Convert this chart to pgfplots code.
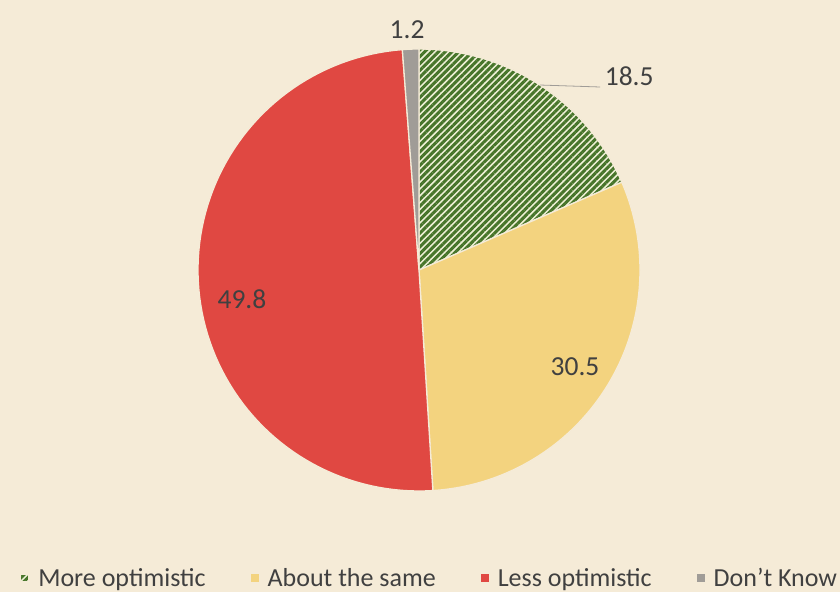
\documentclass[border=0pt]{standalone}
\usepackage{pgfplots}
\pgfplotsset{compat=1.18}
\usepackage{fontspec}
\setmainfont{Carlito}
\usetikzlibrary{patterns.meta}
\definecolor{bg}{HTML}{F5EBD7}
\definecolor{cgreen}{HTML}{47752A}
\definecolor{clgreen}{HTML}{EEF0D6}
\definecolor{cyellow}{HTML}{F3D37F}
\definecolor{cred}{HTML}{E04842}
\definecolor{cgray}{HTML}{A09C97}
\definecolor{ctext}{HTML}{404040}
% data (percent)
\def\vA{18.5}\def\vB{30.5}\def\vC{49.8}\def\vD{1.2}
\pgfmathsetmacro{\tot}{\vA+\vB+\vC+\vD}
\pgfmathsetmacro{\aA}{90}
\pgfmathsetmacro{\aB}{\aA-\vA/\tot*360}
\pgfmathsetmacro{\aC}{\aB-\vB/\tot*360}
\pgfmathsetmacro{\aD}{\aC-\vC/\tot*360}
\pgfmathsetmacro{\aE}{\aD-\vD/\tot*360}
\begin{document}
\begin{tikzpicture}
\fill[bg] (0,0) rectangle (840bp,592bp);
\begin{axis}[
  anchor=origin, at={(419bp,322bp)},
  x=221bp, y=221bp,
  xmin=-1.1, xmax=1.1, ymin=-1.1, ymax=1.1,
  hide axis, clip=false,
  samples=90,
  font=\fontsize{27.5bp}{30bp}\selectfont\color{ctext},
  legend columns=4,
  legend style={draw=none, fill=none, inner sep=0pt,
    at={(-0.321,-0.1335)}, anchor=west,
    font=\fontsize{26bp}{28bp}\selectfont\color{ctext},
    /tikz/every odd column/.append style={column sep=7bp},
    /tikz/every even column/.append style={column sep=43bp}},
  legend cell align=left,
  legend image code/.code={\path[#1, draw=none] (0bp,-4bp) rectangle (8bp,4bp);},
]
\addplot[fill=clgreen, postaction={pattern={Lines[angle=45,distance=4.8bp,line width=3bp]}, pattern color=cgreen}, draw=bg, line width=1.3pt, domain=\aB:\aA, variable=\t]
  ({cos(t)},{sin(t)}) -- (axis cs:0,0) -- cycle;
\addlegendentry{More optimistic}
\addplot[fill=cyellow, draw=bg, line width=1.3pt, domain=\aC:\aB, variable=\t]
  ({cos(t)},{sin(t)}) -- (axis cs:0,0) -- cycle;
\addlegendentry{About the same}
\addplot[fill=cred, draw=bg, line width=1.3pt, domain=\aD:\aC, variable=\t]
  ({cos(t)},{sin(t)}) -- (axis cs:0,0) -- cycle;
\addlegendentry{Less optimistic}
\addplot[fill=cgray, draw=bg, line width=1.3pt, domain=\aE:\aD, variable=\t]
  ({cos(t)},{sin(t)}) -- (axis cs:0,0) -- cycle;
\addlegendentry{Don’t Know}
\draw[cgray, line width=0.8pt] (axis cs:0.548,0.837) -- (axis cs:0.82,0.828);
\node[anchor=base west, inner sep=0pt] at (axis cs:0.84,0.835) {18.5};
\node at (axis cs:-0.054,1.086) {1.2};
\node at (axis cs:0.706,-0.439) {30.5};
\node at (axis cs:-0.801,-0.131) {49.8};
\end{axis}
\end{tikzpicture}
\end{document}
